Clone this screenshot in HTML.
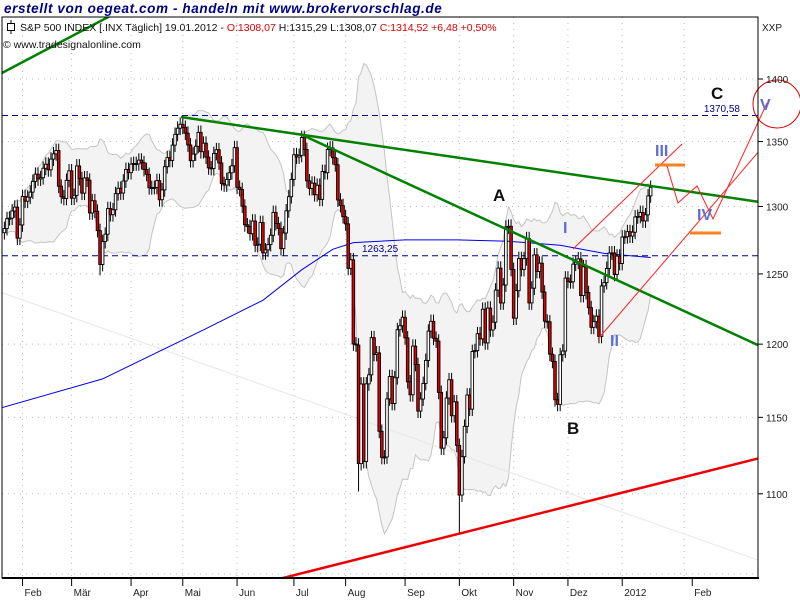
<!DOCTYPE html>
<html><head><meta charset="utf-8">
<style>
html,body{margin:0;padding:0;background:#fff;}
#wrap{position:relative;width:800px;height:600px;overflow:hidden;font-family:"Liberation Sans",sans-serif;}
svg text{font-family:"Liberation Sans",sans-serif;}
</style></head>
<body>
<div id="wrap">
<svg id="chart" width="800" height="600" xmlns="http://www.w3.org/2000/svg"></svg>
</div>
<script>
// S&P 500 daily closes, 21 Jan 2011 .. 19 Jan 2012
const closes = [
1283.4,1290.8,1291.2,1296.6,1299.5,1276.3,1286.1,
1307.6,1304.0,1307.1,1310.9,1319.1,1324.6,1320.9,1321.9,1329.2,1332.3,1328.0,1336.3,1340.4,1343.0,1315.4,1307.4,1306.1,1319.9,1327.2,
1306.3,1308.4,1331.0,1321.2,1310.1,1321.8,1320.0,1295.1,1304.3,1296.4,1281.9,1256.9,1273.7,1279.2,1298.4,1293.8,1297.5,1309.7,1313.8,1310.2,1319.4,1328.3,1325.8,
1332.4,1332.9,1332.6,1335.5,1333.5,1328.2,1324.5,1314.2,1314.4,1314.5,1319.7,1305.1,1312.6,1330.4,1337.4,1335.3,1347.2,1355.7,1360.5,1363.6,
1361.2,1356.6,1347.3,1335.1,1340.2,1346.3,1357.2,1342.1,1348.7,1337.8,1329.5,1329.0,1340.7,1343.6,1333.3,1317.4,1316.3,1320.5,1325.7,1331.1,1345.2,
1314.6,1312.9,1300.2,1286.2,1284.9,1279.6,1289.0,1271.0,1271.8,1287.9,1265.4,1267.6,1271.5,1278.4,1295.5,1287.1,1283.5,1268.5,1280.1,1296.7,1307.4,1320.6,
1339.7,1337.9,1339.2,1353.2,1343.8,1319.5,1313.6,1317.7,1308.9,1316.1,1305.4,1326.7,1325.8,1343.8,1345.0,1337.4,1331.9,1304.9,1300.7,1292.3,
1286.9,1254.1,1260.3,1200.1,1199.4,1119.5,1172.5,1120.8,1172.6,1178.8,1204.5,1192.8,1193.9,1140.7,1123.5,1123.8,1162.4,1177.6,1159.3,1176.8,1210.1,1212.9,1218.9,
1204.4,1174.0,1165.2,1198.6,1185.9,1154.2,1162.3,1172.9,1188.7,1209.1,1216.0,1204.1,1202.1,1166.8,1129.6,1136.4,1163.0,1175.4,1151.1,1160.4,1131.4,
1099.2,1124.0,1144.0,1165.0,1155.5,1194.9,1195.5,1207.3,1203.7,1224.6,1200.9,1225.4,1209.9,1215.4,1238.3,1254.2,1229.1,1242.0,1284.6,1285.1,1253.3,
1218.3,1237.9,1261.2,1253.2,1261.1,1275.9,1229.1,1239.7,1263.9,1251.8,1257.8,1236.9,1216.1,1215.7,1193.0,1188.0,1161.8,1158.7,1192.6,1195.2,1247.0,
1244.6,1244.3,1257.1,1258.5,1261.0,1234.4,1255.2,1236.5,1225.7,1211.8,1215.8,1219.7,1205.4,1241.3,1243.7,1254.0,1265.3,1265.4,1249.6,1263.0,1257.6,
1277.1,1277.3,1281.1,1277.8,1280.7,1292.1,1292.5,1295.5,1289.1,1293.7,1308.0,1314.5
];
const firstOpen = 1280.3;
const lowSpikes = {176:1074.8, 137:1101.5, 37:1249.0};
// 200-day moving average readings (index, value)
const maIdx = [-2,38,77,100,115,127,135,155,175,195,215,232,250];
const maVal = [1156,1176,1210,1231,1253,1268,1273,1275,1275,1274,1271,1265,1262];
const monthLabels = ["Feb","Mär","Apr","Mai","Jun","Jul","Aug","Sep","Okt","Nov","Dez","2012","Feb"];
const monthIdx = [7,26,49,69,90,112,132,155,176,197,218,239,263];
const yTicks = [1100,1150,1200,1250,1300,1350,1400];
const gridY = [1050,1100,1150,1200,1250,1300,1350,1400];
const levels = [1370.58, 1263.25];

const NS="http://www.w3.org/2000/svg";
const svg=document.getElementById('chart');
const L=2,R=758,T=17,B=578;
function xS(i){return 22.5+(i-7)*2.585;}
function yS(v){return 79+1720*Math.log(1400/v);}
function el(tag,attrs,parent){const e=document.createElementNS(NS,tag);for(const k in attrs)e.setAttribute(k,attrs[k]);(parent||svg).appendChild(e);return e;}

const defs=el('defs',{});
const cp=el('clipPath',{id:'pc'},defs);
el('rect',{x:L,y:T,width:R-L,height:B-T},cp);

const grid=el('g',{});


gridY.forEach(v=>{el('line',{x1:L,x2:R,y1:yS(v),y2:yS(v),stroke:'#bbb','stroke-dasharray':'1,5'},grid);});
monthIdx.forEach(i=>{el('line',{x1:xS(i),x2:xS(i),y1:T,y2:B,stroke:'#bbb','stroke-dasharray':'1,5'},grid);});

const plot=el('g',{'clip-path':'url(#pc)'});

const up=[],lo=[];
for(let i=0;i<closes.length;i++){const s=closes.slice(Math.max(0,i-19),i+1);const m=s.reduce((a,b)=>a+b,0)/s.length;const sd=Math.sqrt(s.reduce((a,b)=>a+(b-m)*(b-m),0)/s.length);up.push(m+2*sd);lo.push(m-2*sd);}
let bp='';up.forEach((v,i)=>{bp+=(i?'L':'M')+xS(i).toFixed(1)+','+yS(v).toFixed(1);});
for(let i=lo.length-1;i>=0;i--)bp+='L'+xS(i).toFixed(1)+','+yS(lo[i]).toFixed(1);
const band=el('path',{d:bp+'Z',fill:'#f3f3f3',stroke:'none'},plot);


['u','l'].forEach(k=>{const arr=k==='u'?up:lo;let d='';arr.forEach((v,i)=>{d+=(i?'L':'M')+xS(i).toFixed(1)+','+yS(v).toFixed(1);});const p=el('path',{d:d,fill:'none',stroke:'#c4c4c4','stroke-width':1},plot);});

el('line',{x1:0,y1:292,x2:800,y2:575,stroke:'#e6e6e6','stroke-width':1},plot);

let md='';maIdx.forEach((i,k)=>{md+=(k?'L':'M')+xS(i).toFixed(1)+','+yS(maVal[k]).toFixed(1);});
const ma=el('path',{d:md,fill:'none',stroke:'#0000ee','stroke-width':1},plot);



levels.forEach(v=>{const ln=el('line',{x1:L,x2:R,y1:yS(v),y2:yS(v),stroke:'#00008b','stroke-dasharray':'6,4','stroke-width':1},plot);});

const cg=el('g',{},plot);


for(let i=0;i<closes.length;i++){
  const o=i?closes[i-1]:firstOpen,c=closes[i];
  const hi=Math.max(o,c)*1.004, lw=lowSpikes[i]||Math.min(o,c)*0.996;
  const x=xS(i);
  const g=el('g',{},cg);
  
  
  el('line',{x1:x,x2:x,y1:yS(hi),y2:yS(lw),stroke:'#000','stroke-width':1},g);
  const yt=yS(Math.max(o,c)),yb=yS(Math.min(o,c));
  el('rect',{x:x-1.3,y:yt,width:2.6,height:Math.max(1,yb-yt),fill:c<o?'#e00000':'#fff',stroke:'#000','stroke-width':0.9},g);
}

function tl(name,x1,y1,x2,y2,col,w){const l=el('line',{x1,y1,x2,y2,stroke:col,'stroke-width':w},plot);}
tl('green-trend-topleft',0,74,112,15,'#008000',2.5);
tl('green-trend-upper',181,117,760,202,'#008000',2.5);
tl('green-trend-lower',300,134,760,346,'#008000',2.5);
tl('red-support-line',275,580,760,458,'#ee0000',2.5);
tl('red-channel-upper',573,249,682,144,'#ff2020',1);
tl('red-channel-lower',598,339,760,150,'#ff2020',1);
tl('orange-target-iii',655,165,685,165,'#ff8020',3);
tl('orange-target-iv',690,233,721,233,'#ff8020',3);

function tx(name,s,x,y,opts){const t=el('text',Object.assign({x,y},opts));t.textContent=s;return t;}

const zz=el('polyline',{points:'667,166 678,203 697,186 713,219 767,103',fill:'none',stroke:'#ff2020','stroke-width':1});


const circ=el('circle',{cx:777,cy:104,r:24,fill:'none',stroke:'#e00000','stroke-width':1});



tx('level-label-1370',"1370,58",740,112,{'font-size':10,fill:'#00008b','text-anchor':'end','font-family':'Liberation Mono, monospace'});
tx('level-label-1263',"1263,25",362,252,{'font-size':10,fill:'#00008b','font-family':'Liberation Mono, monospace'});

const wb={'font-size':17,'font-weight':'bold',fill:'#111'};
tx('wave-label-a','A',493,201,wb);tx('wave-label-b','B',567,434,wb);tx('wave-label-c','C',711,99,wb);
const wv={'font-size':16,'font-weight':'bold',fill:'#5c6fd6'};
tx('wave-label-i','I',563,233,wv);tx('wave-label-ii','II',610,346,wv);tx('wave-label-iii','III',655,156,wv);tx('wave-label-iv','IV',697,220,wv);tx('wave-label-v','V',760,110,wv);

// header background + frame
el('rect',{x:0,y:0,width:800,height:16,fill:'#fff'});
el('rect',{x:L,y:T,width:R-L,height:B-T,fill:'none',stroke:'#000','stroke-width':1});
el('line',{x1:L,x2:R+1,y1:B,y2:B,stroke:'#000','stroke-width':2});

const ax=el('g',{});


yTicks.forEach(v=>{const y=yS(v);el('line',{x1:R,x2:R+5,y1:y,y2:y,stroke:'#000'},ax);const t=el('text',{x:R+8,y:y+4,'font-size':10,fill:'#222'},ax);t.textContent=v;});
const xa=el('g',{});


monthIdx.forEach((i,k)=>{const x=xS(i)+(k===12?8:0);el('line',{x1:x,x2:x,y1:B,y2:B+8,stroke:'#000'},xa);const t=el('text',{x:x+2,y:596,'font-size':10,fill:'#222'},xa);t.textContent=monthLabels[k];});
tx('symbol-code','XXP',762,31,{'font-size':10,fill:'#222'});

tx('watermark-title','erstellt von oegeat.com - handeln mit www.brokervorschlag.de',4,13,{'font-size':13.5,'font-weight':'bold','font-style':'italic',fill:'#000080','letter-spacing':'0.6'});
const info=el('text',{x:20,y:31,'font-size':10.5,fill:'#111'});


info.innerHTML='S&amp;P 500 INDEX [.INX  Täglich] 19.01.2012 - <tspan fill="#e00000">O:1308,07</tspan> H:1315,29 L:1308,07 <tspan fill="#e00000">C:1314,52 +6,48 +0,50%</tspan>';
const ic=el('g',{});


el('line',{x1:11,x2:11,y1:20,y2:34,stroke:'#000'},ic);el('rect',{x:7.5,y:23.5,width:7,height:7,fill:'#fff',stroke:'#000'},ic);
tx('copyright','© www.tradesignalonline.com',3,48,{'font-size':10.5,fill:'#111'});
</script>
</body></html>
